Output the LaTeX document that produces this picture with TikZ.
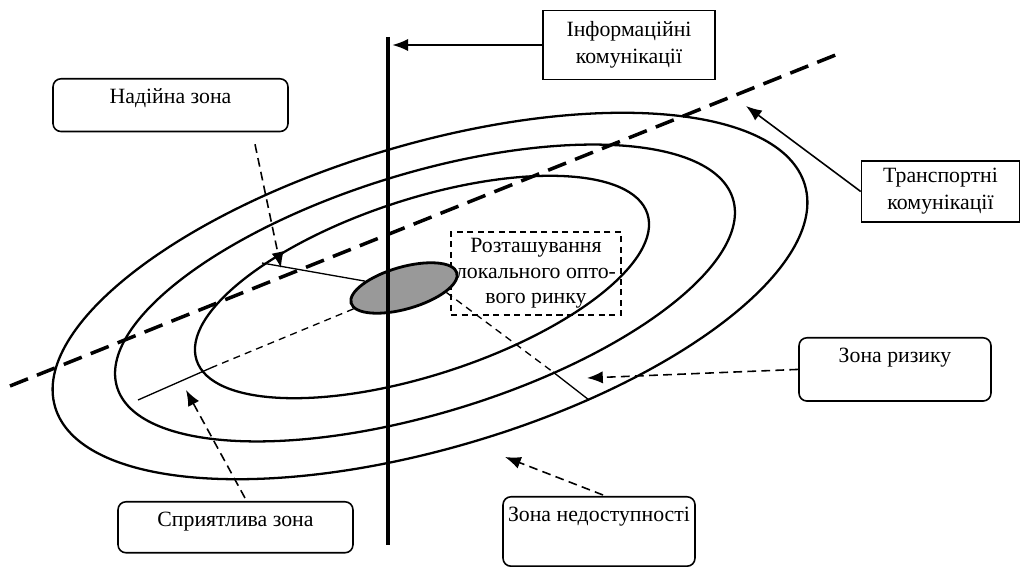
\documentclass[tikz,border=0pt]{standalone}
\usepackage{fontspec}
\setmainfont{Liberation Serif}
\usetikzlibrary{shapes.geometric, arrows.meta}

\tikzset{
  zone/.style={line width=1.3pt},
  road/.style={line width=2pt, dash pattern=on 11pt off 5.5pt},
  axisline/.style={line width=2pt},
  spoke/.style={line width=0.75pt},
  radialdash/.style={dash pattern=on 4pt off 3pt},
  pointer/.style={->, line width=0.9pt, dash pattern=on 5pt off 3pt},
  zonebox/.style={draw, rounded corners=4.5pt, line width=0.9pt, anchor=north,
    inner xsep=1pt, inner ysep=2pt, text height=12pt, text depth=#1},
  namebox/.style={draw, line width=0.9pt, align=center, inner sep=1pt},
  market/.style={draw, ellipse, fill=gray!80, line width=1.6pt, inner sep=0pt,
    minimum width=2.2cm, minimum height=0.84cm, rotate=16}
}

\begin{document}
\begin{tikzpicture}[x=0.02cm, y=-0.02cm, >={Latex[length=9pt, width=7pt]},
    font=\fontsize{12.4}{14.4}\selectfont]
  \useasboundingbox (0,0) rectangle (1022,567);

  % three zones round the market
  \draw[zone, rotate around={16.5:(430,296)}] (430,296) ellipse (391 and 152);
  \draw[zone, rotate around={17:(425,293)}] (425,293) ellipse (322 and 120);
  \draw[zone, rotate around={18:(422,287)}] (422,287) ellipse (237 and 88);

  \node[namebox, dash pattern=on 3.5pt off 2.5pt, minimum width=3.4cm,
    minimum height=1.66cm] (place) at (536,273.5)
    {Розташування\\локального опто-\\вого ринку};

  % transport and information lines
  \coordinate (tL) at (10,386);
  \coordinate (tR) at (843,52);
  \coordinate (vTop) at (388,37);
  \coordinate (vBot) at (388,545);
  \draw[road] (tL) -- (tR);

  \node[market] (market) at (404,288) {};
  \draw[axisline] (vTop) -- (vBot);

  % radii
  \coordinate (aEnd) at (262,263);
  \coordinate (bIn) at (213,367);
  \coordinate (bOut) at (138,400);
  \coordinate (cMid) at (553,372);
  \coordinate (cOut) at (589,400);
  \draw[spoke] (market) -- (aEnd);
  \draw[spoke, radialdash] (market) -- (bIn);
  \draw[spoke] (bIn) -- (bOut);
  \draw[spoke, radialdash] (market.-22) -- (cMid);
  \draw[spoke] (cMid) -- (cOut);

  % labels
  \node[namebox, minimum width=3.44cm, minimum height=1.38cm,
    font=\fontsize{12.4}{15.5}\selectfont] (info) at (629,45)
    {Інформаційні\\комунікації};
  \node[namebox, minimum width=3.16cm, minimum height=1.22cm,
    font=\fontsize{12.4}{15.3}\selectfont] (transp) at (940.5,191.5)
    {Транспортні\\комунікації};
  \node[zonebox=14pt, minimum width=4.7cm] (reliable) at (170.5,78) {Надійна зона};
  \node[zonebox=13pt, minimum width=4.7cm] (favour) at (235.5,501) {Сприятлива зона};
  \node[zonebox=20pt, minimum width=3.84cm] (risk) at (895,337) {Зона ризику};
  \node[zonebox=23.5pt, minimum width=3.84cm] (noaccess) at (599,496) {Зона недоступності};

  % pointers
  \coordinate (tTip) at (746,106);
  \coordinate (aTip) at (281,268);
  \coordinate (bTip) at (186,390);
  \coordinate (cTip) at (587,378);
  \coordinate (dTip) at (505,457);
  \draw[->, line width=0.9pt, shorten >=2.5pt] (info.west) -- (info.west -| vTop);
  \draw[->, line width=0.9pt] (transp.west) -- (tTip);
  \draw[pointer] ([shift={(84.5,12)}]reliable.south) -- (aTip);
  \draw[pointer] ([shift={(9.5,-3)}]favour.north) -- (bTip);
  \draw[pointer] (risk.west) -- (cTip);
  \draw[pointer] ([shift={(4,-1)}]noaccess.north) -- (dTip);
\end{tikzpicture}
\end{document}
